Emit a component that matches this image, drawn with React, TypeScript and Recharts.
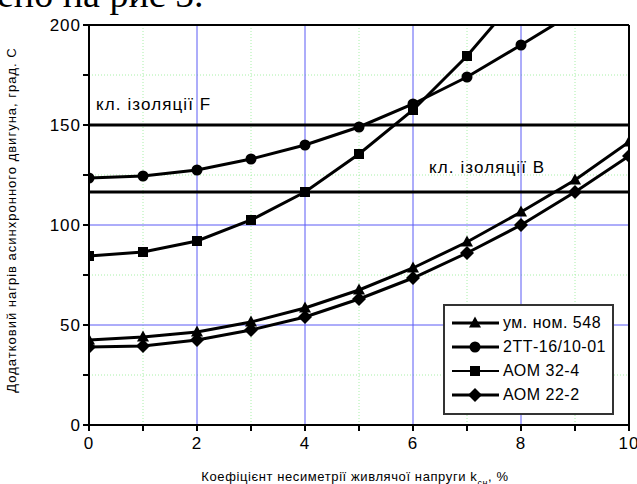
import React from 'react';
import {
  LineChart,
  Line,
  XAxis,
  YAxis,
  ReferenceLine,
  Label,
} from 'recharts';

// Коефіцієнт несиметрії, %
const kValues = [0, 1, 2, 3, 4, 5, 6, 7, 8, 9, 10];
const umNom548 = [42.5, 44, 46.5, 51.5, 58.5, 67.5, 78.5, 91.5, 106.5, 122.5, 141.5];
const tt2 = [123.5, 124.5, 127.5, 133, 140, 149, 160.5, 174, 190, 206.5, 223];
const aom324 = [84.5, 86.5, 92, 102.5, 116.5, 135.5, 157.5, 184.5, 216, null, null];
const aom222 = [39, 39.5, 42.5, 47.5, 54, 63, 73.5, 86, 100, 116.5, 134.5];

const xTicks = [0, 1, 2, 3, 4, 5, 6, 7, 8, 9, 10];
const yTicks = [0, 25, 50, 75, 100, 125, 150, 175, 200];
const xMajor = [2, 4, 6, 8];
const xMinor = [1, 3, 5, 7, 9];
const yMajor = [50, 100];
const yMinor = [25, 75, 125, 175];

const insulationF = 150;
const insulationB = 116.5;

const data = kValues.map((k, i) => ({
  k,
  um: umNom548[i],
  tt: tt2[i],
  aom32: aom324[i],
  aom22: aom222[i],
}));

const FONT = '"Liberation Sans", Arial, sans-serif';

type Shape = 'triangle' | 'circle' | 'square' | 'diamond';

const Marker = ({ cx, cy, shape }: { cx: number; cy: number; shape: Shape }) => {
  if (cx == null || cy == null || isNaN(cx) || isNaN(cy)) return null;
  if (shape === 'triangle')
    return <polygon points={`${cx},${cy - 6.5} ${cx - 6},${cy + 4.5} ${cx + 6},${cy + 4.5}`} fill="#000" />;
  if (shape === 'circle') return <circle cx={cx} cy={cy} r={5.5} fill="#000" />;
  if (shape === 'square') return <rect x={cx - 5} y={cy - 5} width={10} height={10} fill="#000" />;
  return <polygon points={`${cx},${cy - 7} ${cx + 7},${cy} ${cx},${cy + 7} ${cx - 7},${cy}`} fill="#000" />;
};

const dotFor = (shape: Shape) => (props: any) => (
  <Marker key={`${shape}-${props.index}`} cx={props.cx} cy={props.cy} shape={shape} />
);

const series: { key: string; name: string; shape: Shape; width: number }[] = [
  { key: 'um', name: 'ум. ном. 548', shape: 'triangle', width: 3 },
  { key: 'tt', name: '2ТТ-16/10-01', shape: 'circle', width: 3 },
  { key: 'aom32', name: 'АОМ 32-4', shape: 'square', width: 2 },
  { key: 'aom22', name: 'АОМ 22-2', shape: 'diamond', width: 3 },
];

const LegendBox = () => (
  <div
    style={{
      position: 'absolute',
      left: 443,
      top: 304,
      width: 161,
      height: 102,
      border: '2px solid #333',
      background: '#fff',
      padding: '5px 0 0 6px',
      boxSizing: 'content-box',
      fontFamily: FONT,
      fontSize: 16,
      letterSpacing: 0.5,
      lineHeight: '18px',
    }}
  >
    {series.map((s) => (
      <div key={s.key} style={{ display: 'flex', alignItems: 'center', height: 24 }}>
        <svg width={50} height={20}>
          <line x1={1} y1={10} x2={48} y2={10} stroke="#000" strokeWidth={s.width} />
          <Marker cx={24} cy={10} shape={s.shape} />
        </svg>
        <span style={{ marginLeft: 2 }}>{s.name}</span>
      </div>
    ))}
  </div>
);

const lineLabel = (text: string, dx: number, dy: number) => (props: any) => {
  const vb = props.viewBox || {};
  return (
    <text x={vb.x + dx} y={vb.y + dy} fontFamily={FONT} fontSize={17} letterSpacing={1.1} fill="#000">
      {text}
    </text>
  );
};

const xTitle = (props: any) => {
  const vb = props.viewBox || {};
  return (
    <text
      x={vb.x + vb.width / 2 - 4}
      y={vb.y + vb.height - 3}
      textAnchor="middle"
      fontFamily={FONT}
      fontSize={13}
      letterSpacing={0.6}
      fill="#000"
    >
      Коефіцієнт несиметрії живлячої напруги k
      <tspan fontSize={9} dy={5}>сн</tspan>
      <tspan dy={-5}>, %</tspan>
    </text>
  );
};

const App: React.FC = () => {
  return (
    <div style={{ position: 'absolute', left: 0, top: 0, width: 637, height: 484, overflow: 'hidden', background: '#fff' }}>
      <div
        style={{
          position: 'absolute',
          left: -3,
          top: -28,
          fontFamily: '"Liberation Serif", "Times New Roman", serif',
          fontSize: 38,
          whiteSpace: 'nowrap',
        }}
      >
        ено на рис 5.
      </div>
      <LineChart width={637} height={484} data={data} margin={{ top: 25, right: 8, bottom: 0, left: 0 }}>
        <XAxis
          dataKey="k"
          type="number"
          domain={[0, 10]}
          ticks={xTicks}
          allowDataOverflow
          interval={0}
          tickFormatter={(v: number) => (v % 2 === 0 ? String(v) : '')}
          tick={{ fill: '#000', fontSize: 17, fontFamily: FONT, letterSpacing: 1, dy: 4 }}
          tickSize={6}
          stroke="#000"
          strokeWidth={2}
          height={59}
        >
          <Label content={xTitle} />
        </XAxis>
        <YAxis
          type="number"
          domain={[0, 200]}
          ticks={yTicks}
          allowDataOverflow
          interval={0}
          tickFormatter={(v: number) => (v % 50 === 0 ? String(v) : '')}
          tick={{ fill: '#000', fontSize: 17, fontFamily: FONT, letterSpacing: 1 }}
          tickSize={6}
          stroke="#000"
          strokeWidth={2}
          width={89}
        >
          <Label
            angle={-90}
            position="insideLeft"
            offset={11}
            dy={-5}
            style={{ fontFamily: FONT, fontSize: 13, letterSpacing: 1, fill: '#000', textAnchor: 'middle' }}
            value="Додатковий нагрів асинхронного двигуна, град. С"
          />
        </YAxis>

        {xMinor.map((x) => (
          <ReferenceLine key={`xm${x}`} x={x} stroke="#a8f0a8" strokeDasharray="1 2" />
        ))}
        {yMinor.map((y) => (
          <ReferenceLine key={`ym${y}`} y={y} stroke="#a8f0a8" strokeDasharray="1 2" />
        ))}
        {xMajor.map((x) => (
          <ReferenceLine key={`xM${x}`} x={x} stroke="#5a5af5" strokeWidth={1} />
        ))}
        {yMajor.map((y) => (
          <ReferenceLine key={`yM${y}`} y={y} stroke="#5a5af5" strokeWidth={1} />
        ))}
        <ReferenceLine y={200} stroke="#000" strokeWidth={2} />
        <ReferenceLine x={10} stroke="#000" strokeWidth={2} />
        <ReferenceLine
          y={insulationF}
          stroke="#000"
          strokeWidth={3}
          label={lineLabel('кл. ізоляції F', 7, -15)}
        />
        <ReferenceLine
          y={insulationB}
          stroke="#000"
          strokeWidth={3}
          label={lineLabel('кл. ізоляції B', 340, -19)}
        />

        {series.map((s) => (
          <Line
            key={s.key}
            dataKey={s.key}
            name={s.name}
            stroke="#000"
            strokeWidth={3}
            dot={dotFor(s.shape)}
            activeDot={false}
            connectNulls={false}
            isAnimationActive={false}
          />
        ))}
      </LineChart>
      <LegendBox />
    </div>
  );
};

export default App;
